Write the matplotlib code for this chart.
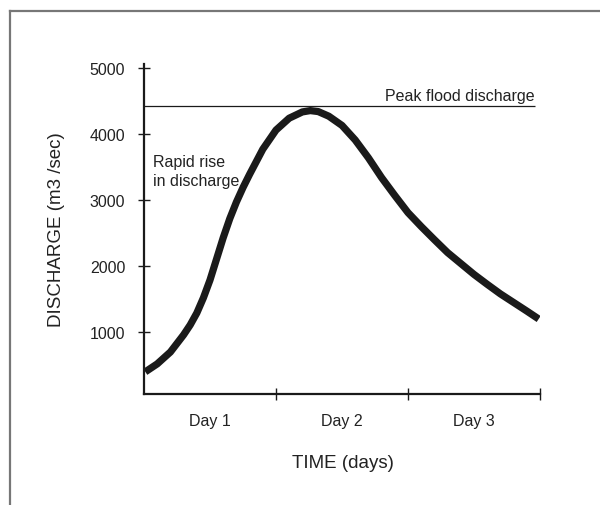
import matplotlib
matplotlib.use('Agg')
from matplotlib import pyplot as plt
from matplotlib.lines import Line2D

# discharge hydrograph
time_days = [0.01, 0.1, 0.2, 0.3, 0.35, 0.4, 0.45, 0.5, 0.55, 0.6, 0.65,
             0.7, 0.75, 0.8, 0.9, 1.0, 1.1, 1.2, 1.26, 1.32, 1.4, 1.5, 1.6,
             1.7, 1.8, 1.9, 2.0, 2.1, 2.2, 2.3, 2.4, 2.5, 2.6, 2.7, 2.8,
             2.9, 2.99]
discharge = [400, 520, 700, 960, 1110, 1290, 1520, 1790, 2110, 2430, 2720,
             2970, 3190, 3390, 3770, 4060, 4240, 4335, 4355, 4340, 4270, 4130,
             3910, 3640, 3340, 3070, 2810, 2600, 2400, 2205, 2040, 1875, 1725,
             1580, 1450, 1320, 1200]

peak_discharge = 4420
peak_end = 2.96

y_ticks = [1000, 2000, 3000, 4000, 5000]
day_ticks = [1, 2, 3]
day_label_pos = [0.5, 1.5, 2.5]
day_labels = ['Day 1', 'Day 2', 'Day 3']

plt.rcParams['font.family'] = ['Liberation Sans', 'DejaVu Sans']
ink = '#1a1a1a'


def main():
    fig = plt.figure(figsize=(6.0, 5.06), dpi=100)
    ax = fig.add_axes([0.24, 0.2184, 0.66, 0.6531])

    ax.plot(time_days, discharge, color=ink, lw=5.2,
            solid_capstyle='butt', solid_joinstyle='round')
    ax.hlines(peak_discharge, 0, peak_end, color=ink, lw=0.9)

    ax.text(peak_end, peak_discharge + 55, 'Peak flood discharge',
            ha='right', va='bottom', fontsize=11.5, color='#222222')
    ax.text(0.07, 3440, 'Rapid rise\nin discharge', ha='left', va='center',
            fontsize=11.5, color='#222222', linespacing=1.4)

    ax.set_xlim(0, 3)
    ax.set_ylim(57, 5060)

    for side in ['top', 'right']:
        ax.spines[side].set_visible(False)
    for side in ['left', 'bottom']:
        ax.spines[side].set_linewidth(1.6)
        ax.spines[side].set_color(ink)
    ax.spines['bottom'].set_bounds(0, 3)

    ax.set_yticks(y_ticks)
    ax.set_yticklabels([str(v) for v in y_ticks])
    ax.tick_params(axis='y', direction='inout', length=9, width=1.0,
                   labelsize=11.5, pad=9, color=ink, labelcolor='#222222')

    ax.set_xticks(day_ticks)
    ax.set_xticklabels(['', '', ''])
    ax.set_xticks(day_label_pos, minor=True)
    ax.set_xticklabels(day_labels, minor=True)
    ax.tick_params(axis='x', which='major', direction='inout', length=9,
                   width=1.0, color=ink)
    ax.tick_params(axis='x', which='minor', length=0, labelsize=11.5,
                   pad=13.4, labelcolor='#222222')

    ax.set_xlabel('TIME (days)', fontsize=13.5, color='#222222')
    ax.xaxis.set_label_coords(0.5025, -0.207)
    ax.xaxis.label.set_va('center')
    ax.set_ylabel('DISCHARGE (m3 /sec)', fontsize=13.5, color='#222222')
    ax.yaxis.set_label_coords(-0.222, 0.5008)
    ax.yaxis.label.set_va('center')

    # grey frame, only left and top edges visible
    fig.add_artist(Line2D([10 / 600, 10 / 600], [0, 1 - 12 / 506],
                          transform=fig.transFigure, color='#777777', lw=1.6))
    fig.add_artist(Line2D([10 / 600, 1], [1 - 12 / 506, 1 - 12 / 506],
                          transform=fig.transFigure, color='#777777', lw=1.6))

    fig.savefig('out.png', dpi=100)


if __name__ == '__main__':
    main()
